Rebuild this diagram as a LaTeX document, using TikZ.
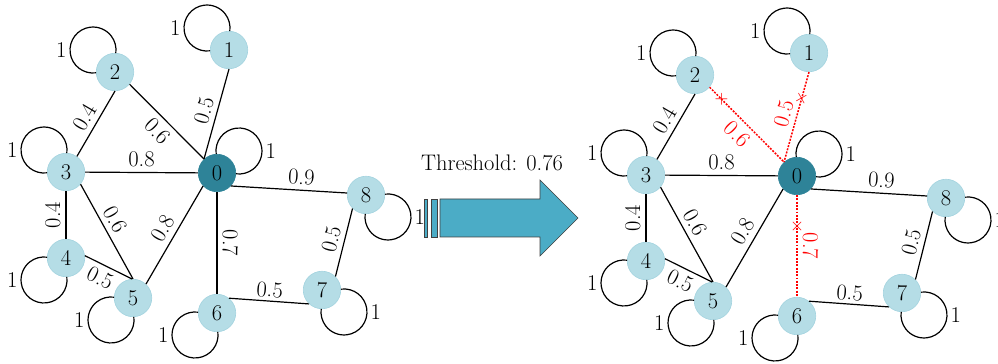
\documentclass[tikz,border=0pt]{standalone}
\usepackage{tikz}
\usepackage{xcolor}
\usetikzlibrary{arrows, positioning}

\definecolor{leafblue}{HTML}{B5DDE6}
\definecolor{leafline}{HTML}{A3D3DF}
\definecolor{hubteal}{HTML}{2E8398}
\definecolor{arrowblue}{HTML}{4BACC6}

\tikzset{selfloop/.style={to path={([shift={({#1+47.5}:19)}]\tikztostart.center)
    arc[start angle={#1-217.5}, end angle={#1-502.5}, radius=23] \tikztonodes}}}

\begin{document}
\begin{tikzpicture}[x=0.6667pt,y=0.6667pt,thick,font=\fontsize{15}{18}\selectfont]
        \tikzstyle{vertex}=[circle,fill=leafblue,draw=leafline,thin,minimum size=25pt,inner sep=0pt]
        \tikzstyle{hub}=[vertex,fill=hubteal,draw=hubteal]
        \tikzstyle{loopUL}=[selfloop=135]
        \tikzstyle{loopUR}=[selfloop=45]
        \tikzstyle{loopLL}=[selfloop=225]
        \tikzstyle{loopLR}=[selfloop=315]
        \tikzstyle{looplbl}=[inner sep=2pt]
        \tikzstyle{cutedge}=[red,line width=1pt,dash pattern=on 1.3pt off 0.9pt]
        \tikzstyle{xmark}=[sloped,red,inner sep=0pt,font=\fontsize{13}{15}\selectfont]
        \tikzstyle{bigarrow}=[fill=arrowblue,draw=black!75,thin]

        \useasboundingbox (0,0) rectangle (998,364);

        % before thresholding
        \node[hub]    (A0) at (217,191) {0};
        \node[vertex] (A1) at (229,314) {1};
        \node[vertex] (A2) at (115,292) {2};
        \node[vertex] (A3) at (66,192)  {3};
        \node[vertex] (A4) at (66,106)  {4};
        \node[vertex] (A5) at (133,66)  {5};
        \node[vertex] (A6) at (217,51)  {6};
        \node[vertex] (A7) at (322,74)  {7};
        \node[vertex] (A8) at (366,169) {8};

        \path (A2.-40)   edge node[sloped,below] {0.6} (A0.133)
              (A1.south) edge node[sloped,above] {0.5} (A0.133)
              (A3.55)    edge node[sloped,above] {0.4} (A2.south)
              (A3)       edge node[sloped,above] {0.8} (A0)
              (A3.-40)   edge node[sloped,above,pos=.44] {0.6} (A5.north)
              (A4.north) edge node[sloped,above] {0.4} (A3.south)
              (A4.7)     edge node[sloped,below,pos=.45] {0.5} (A5.93)
              (A5.47)    edge node[sloped,above] {0.8} (A0.223)
              (A0.south) edge node[sloped,above] {0.7} (A6.north)
              (A0.-43)   edge node[sloped,above,pos=.6] {0.9} (A8.174)
              (A6.51)    edge node[sloped,above,inner sep=2pt] {0.5} (A7.227)
              (A7.45)    edge node[sloped,above] {0.5} (A8.225);

        \path (A0) edge[loopUR] node[looplbl,right,pos=.66] {1} (A0)
              (A1) edge[loopUL] node[looplbl,left,pos=.34]  {1} (A1)
              (A2) edge[loopUL] node[looplbl,left,pos=.34]  {1} (A2)
              (A3) edge[loopUL] node[looplbl,left,pos=.34]  {1} (A3)
              (A4) edge[loopLL] node[looplbl,left,pos=.66]  {1} (A4)
              (A5) edge[loopLL] node[looplbl,left,pos=.66]  {1} (A5)
              (A6) edge[loopLL] node[looplbl,left,pos=.66]  {1} (A6)
              (A7) edge[loopLR] node[looplbl,right,pos=.34] {1} (A7)
              (A8) edge[loopLR] node[looplbl,right,pos=.34] {1} (A8);

        % threshold arrow
        \node (thr) at (492,201) {Threshold: 0.76};
        \draw[bigarrow] (424,127) rectangle (427.5,165);
        \draw[bigarrow] (431,127) rectangle (437,165);
        \draw[bigarrow] (440,127) -- (540,127) -- (540,108) -- (578,146)
                        -- (540,184) -- (540,165) -- (440,165) -- cycle;

        % after thresholding
        \begin{scope}[shift={(580,-3)}]
        \node[hub]    (B0) at (217,191) {0};
        \node[vertex] (B1) at (229,314) {1};
        \node[vertex] (B2) at (115,292) {2};
        \node[vertex] (B3) at (66,192)  {3};
        \node[vertex] (B4) at (66,106)  {4};
        \node[vertex] (B5) at (133,66)  {5};
        \node[vertex] (B6) at (217,51)  {6};
        \node[vertex] (B7) at (322,74)  {7};
        \node[vertex] (B8) at (366,169) {8};

        \path (B3.55)    edge node[sloped,above] {0.4} (B2.south)
              (B3)       edge node[sloped,above] {0.8} (B0)
              (B3.-40)   edge node[sloped,above,pos=.44] {0.6} (B5.north)
              (B4.north) edge node[sloped,above] {0.4} (B3.south)
              (B4.7)     edge node[sloped,below,pos=.45] {0.5} (B5.93)
              (B5.47)    edge node[sloped,above] {0.8} (B0.223)
              (B0.-43)   edge node[sloped,above,pos=.6] {0.9} (B8.174)
              (B6.51)    edge node[sloped,above,inner sep=2pt] {0.5} (B7.227)
              (B7.45)    edge node[sloped,above] {0.5} (B8.225);

        \path[cutedge] (B2.-40)   edge node[xmark,pos=.16] {$\times$} node[sloped,below] {0.6} (B0.133)
                       (B1.south) edge node[xmark,pos=.3]  {$\times$} node[sloped,above] {0.5} (B0.133)
                       (B0.south) edge node[xmark,pos=.31] {$\times$} node[sloped,above] {0.7} (B6.north);

        \path (B0) edge[loopUR] node[looplbl,right,pos=.66] {1} (B0)
              (B1) edge[loopUL] node[looplbl,left,pos=.34]  {1} (B1)
              (B2) edge[loopUL] node[looplbl,left,pos=.34]  {1} (B2)
              (B3) edge[loopUL] node[looplbl,left,pos=.34]  {1} (B3)
              (B4) edge[loopLL] node[looplbl,left,pos=.66]  {1} (B4)
              (B5) edge[loopLL] node[looplbl,left,pos=.66]  {1} (B5)
              (B6) edge[loopLL] node[looplbl,left,pos=.66]  {1} (B6)
              (B7) edge[loopLR] node[looplbl,right,pos=.34] {1} (B7)
              (B8) edge[loopLR] node[looplbl,right,pos=.34] {1} (B8);
        \end{scope}
\end{tikzpicture}
\end{document}
